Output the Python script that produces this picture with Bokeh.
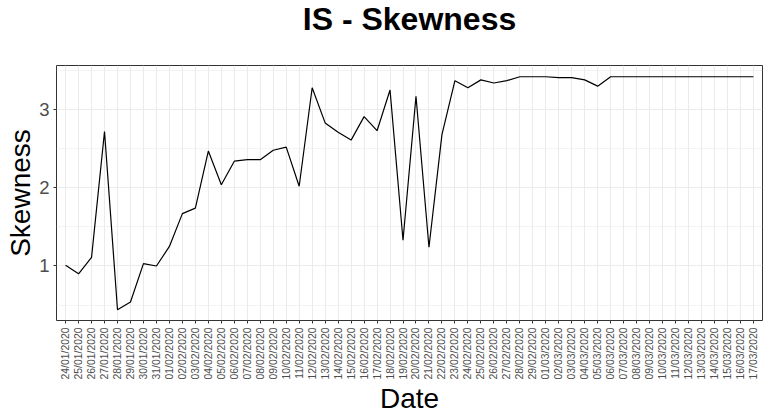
import math
import pandas as pd
from bokeh.plotting import figure
from bokeh.models import FactorRange, Range1d, FixedTicker, Title
from bokeh.embed import file_html
from bokeh.resources import INLINE

dates = [d.strftime("%d/%m/%Y") for d in pd.date_range("2020-01-24", "2020-03-17", freq="D")]
skewness = [1.01, 0.90, 1.11, 2.72, 0.44, 0.54, 1.03, 1.00, 1.25, 1.67,
            1.74, 2.47, 2.04, 2.34, 2.36, 2.36, 2.48, 2.52, 2.02, 3.28,
            2.83, 2.71, 2.61, 2.91, 2.73, 3.25, 1.33, 3.17, 1.24, 2.68,
            3.37, 3.28, 3.38, 3.34, 3.37, 3.42, 3.42, 3.42, 3.41, 3.41,
            3.38, 3.30, 3.42, 3.42, 3.42, 3.42, 3.42, 3.42, 3.42, 3.42,
            3.42, 3.42, 3.42, 3.42]
y_ticks = [1, 2, 3]
y_minor = [0.5, 1.5, 2.5, 3.5]

FONT = "Liberation Sans"

p = figure(width=770, height=419, output_backend="svg", toolbar_location=None,
           x_range=FactorRange(factors=dates, range_padding=0.2, range_padding_units="absolute"),
           y_range=Range1d(0.303, 3.564),
           min_border_left=56, min_border_right=8, min_border_top=64, min_border_bottom=99)

p.line(dates, skewness, line_color="black", line_width=1.2)

# spacer panel between frame and title (first "above" panel sits next to the frame)
p.add_layout(Title(text=" ", text_font_size="10px", standoff=14), "above")
p.add_layout(Title(text="IS - Skewness", align="center", vertical_align="top",
                   text_font=FONT, text_font_size="32px", text_font_style="bold",
                   text_color="black", standoff=0), "above")

p.outline_line_color = "#333333"
p.outline_line_width = 1
p.background_fill_color = "white"
p.border_fill_color = "white"

p.yaxis.ticker = FixedTicker(ticks=y_ticks, minor_ticks=y_minor)
p.ygrid.grid_line_color = "#ebebeb"
p.ygrid.grid_line_width = 1.1
p.ygrid.minor_grid_line_color = "#ebebeb"
p.ygrid.minor_grid_line_width = 0.6
p.xgrid.grid_line_color = "#ebebeb"
p.xgrid.grid_line_width = 1.1

for ax in (p.xaxis[0], p.yaxis[0]):
    ax.axis_line_color = None
    ax.major_tick_line_color = "#333333"
    ax.major_tick_in = 0
    ax.major_tick_out = 3
    ax.minor_tick_line_color = None
    ax.major_label_text_color = "#4d4d4d"
    ax.major_label_text_font = FONT
    ax.axis_label_text_font = FONT
    ax.axis_label_text_font_style = "normal"
    ax.axis_label_text_color = "black"
    ax.axis_label_text_font_size = "28px"

p.xaxis.axis_label = "Date"
p.xaxis.major_label_orientation = math.pi / 2
p.xaxis.major_label_text_font_size = "10.4px"
p.xaxis.major_label_standoff = 4
p.xaxis.axis_label_standoff = 0

p.yaxis.axis_label = "Skewness"
p.yaxis.major_label_text_font_size = "18.5px"
p.yaxis.major_label_standoff = 3
p.yaxis.axis_label_standoff = 0

open("out.html", "w").write(file_html(p, INLINE))
